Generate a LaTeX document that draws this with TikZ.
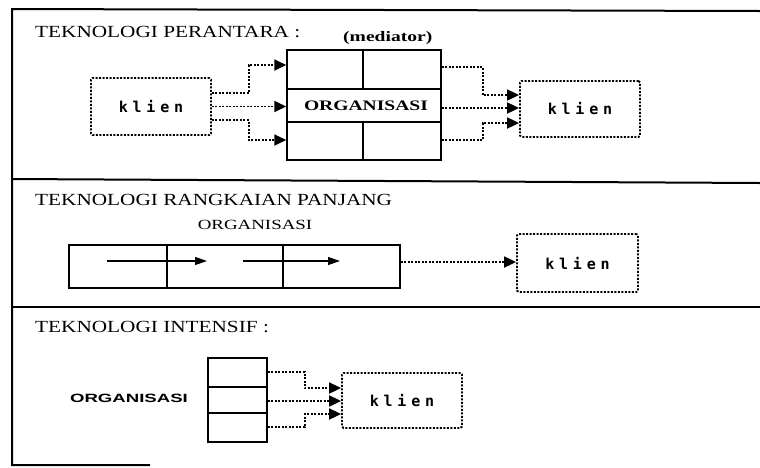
\documentclass[tikz,border=0pt]{standalone}
\usepackage{fontspec}
\setmainfont{Liberation Serif}
\newfontfamily\titlefont[FakeStretch=1.25]{Liberation Serif}
\newfontfamily\orgfont[FakeStretch=1.35]{Liberation Serif}
\newfontfamily\klienfont[LetterSpace=32]{DejaVu Sans Mono}
\newfontfamily\heavyfont[FakeStretch=1.55]{Liberation Sans}
\usetikzlibrary{arrows.meta,calc}
\begin{document}
\begin{tikzpicture}[x=1pt,y=-1pt,
  frame/.style={line width=2pt},
  box/.style={draw,line width=1.5pt,inner sep=0pt},
  part/.style={line width=1.5pt},
  kbox/.style={draw,line width=1.8pt,dash pattern=on 2pt off 1.5pt,rounded corners=1.5pt,inner sep=0pt,font=\klienfont\bfseries\fontsize{15}{17}\selectfont},
  dotarrow/.style={line width=1.8pt,dash pattern=on 2pt off 1.5pt,-{Triangle[length=12pt,width=11pt]}},
  solarrow/.style={line width=1.2pt,-{Triangle[length=12pt,width=8pt]}},
  title/.style={anchor=base west,inner sep=0pt,font=\titlefont\fontsize{17}{20}\selectfont}]
\useasboundingbox (0,0) rectangle (760,467);
% frame
\draw[frame] (760,11) -- (12,9) -- (12,465) -- (150,465);
\draw[frame] (12,179) -- (760,183);
\draw[frame] (12,307) -- (760,307);

% ---------- panel 1
\node[title] (t1) at (35,37.5) {TEKNOLOGI PERANTARA :};
\node[anchor=base west,inner sep=0pt,font=\orgfont\bfseries\fontsize{14.5}{16}\selectfont] (med) at (343,41) {(mediator)};
\node[kbox,minimum width=120pt,minimum height=57pt] (k1) at (151,106.5) {klien};
\node[box,minimum width=154pt,minimum height=110pt] (org) at (364,105) {};
\draw[part] (287,89) -- (441,89);
\draw[part] (287,122) -- (441,122);
\draw[part] (363,50) -- (363,89);
\draw[part] (363,122) -- (363,160);
\node[font=\orgfont\bfseries\fontsize{14.5}{16}\selectfont] (orgl) at (366,105.5) {ORGANISASI};
\node[kbox,minimum width=120pt,minimum height=56pt] (k2) at (580,109) {klien};
\draw[dotarrow] ([yshift=13.5pt]k1.east) -- ++(37,0) |- ([yshift=40pt]org.west);
\draw[dotarrow] (k1.east) -- (k1.east -| org.west);
\draw[dotarrow] ([yshift=-13.5pt]k1.east) -- ++(37,0) |- ([yshift=-35pt]org.west);
\draw[dotarrow] ([yshift=38pt]org.east) -- ++(41,0) |- ([yshift=14pt]k2.west);
\draw[dotarrow] ([yshift=-3pt]org.east) -- ([yshift=1pt]k2.west);
\draw[dotarrow] ([yshift=-35pt]org.east) -- ++(41,0) |- ([yshift=-14pt]k2.west);

% ---------- panel 2
\node[title] (t2) at (35,205) {TEKNOLOGI RANGKAIAN PANJANG};
\node[font=\orgfont\fontsize{14}{16}\selectfont] (org2) at (255,225) {ORGANISASI};
\node[box,minimum width=331pt,minimum height=43pt] (chain) at (234.5,266.5) {};
\draw[part] (167,245) -- (167,288);
\draw[part] (283,245) -- (283,288);
\draw[solarrow] (107,261) -- (207,261);
\draw[solarrow] (243,261) -- (340,261);
\node[kbox,minimum width=121pt,minimum height=58pt] (k3) at (577.5,263) {klien};
\draw[dotarrow] ([yshift=4.5pt]chain.east) -- ([yshift=1pt]k3.west);

% ---------- panel 3
\node[title] (t3) at (35,332) {TEKNOLOGI INTENSIF :};
\node[font=\heavyfont\bfseries\fontsize{12}{14}\selectfont] (org3) at (129,398) {ORGANISASI};
\node[box,minimum width=59pt,minimum height=84pt] (stack) at (237.5,400) {};
\draw[part] (208,387) -- (267,387);
\draw[part] (208,413) -- (267,413);
\node[kbox,minimum width=120pt,minimum height=55pt] (k4) at (402,400.5) {klien};
\draw[dotarrow] ([yshift=28pt]stack.east) -- ++(37,0) |- ([yshift=12.5pt]k4.west);
\draw[dotarrow] ([yshift=-1pt]stack.east) -- ([yshift=-0.5pt]k4.west);
\draw[dotarrow] ([yshift=-27pt]stack.east) -- ++(37,0) |- ([yshift=-13.5pt]k4.west);
\end{tikzpicture}
\end{document}
